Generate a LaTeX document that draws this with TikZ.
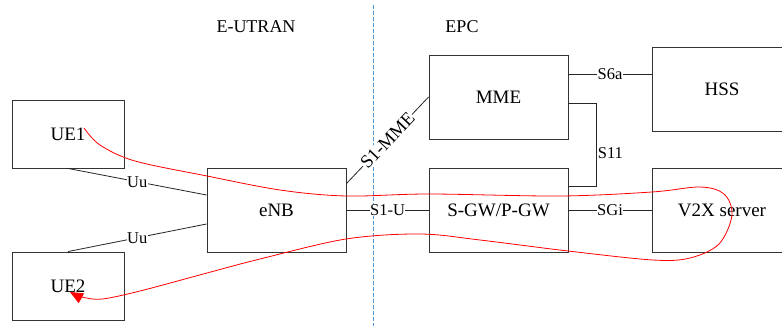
\documentclass[tikz,border=0pt]{standalone}
\usepackage{fontspec}
\setmainfont{Liberation Serif}
\usetikzlibrary{calc,arrows.meta}
\definecolor{divblue}{RGB}{80,150,215}
\begin{document}
\begin{tikzpicture}[x=1pt,y=-1pt,
  box/.style={draw=black!80,line width=0.9pt,minimum width=139pt,minimum height=84pt,inner sep=0pt,font=\fontsize{19}{22}\selectfont},
  uebox/.style={box,minimum width=112pt,minimum height=68pt},
  link/.style={draw=black!85,line width=0.8pt},
  lab/.style={fill=white,inner sep=0.5pt,font=\fontsize{16.5}{19}\selectfont},
  title/.style={font=\fontsize{18}{21}\selectfont}]
\useasboundingbox (0,0) rectangle (782,326);
\fill[white] (0,0) rectangle (782,326);
% divider
\draw[divblue,line width=1pt,dash pattern=on 4pt off 2pt] (373,5) -- (373,326);
\node[title] (eutran) at (256,27) {E-UTRAN};
\node[title] (epc) at (462,27) {EPC};
% boxes
\node[uebox] (UE1) at (68,134) {UE1};
\node[uebox] (UE2) at (68,286) {UE2};
\node[box] (eNB) at (276.5,210) {eNB};
\node[box] (MME) at (498.5,97) {MME};
\node[box] (SGW) at (498.5,210) {S-GW/P-GW};
\node[box,minimum width=140pt] (HSS) at (722,89) {HSS};
\node[box,minimum width=140pt] (V2X) at (722,210) {V2X server};
% links
\draw[link] (UE1.south) -- node[lab,pos=0.5] {Uu} ($(eNB.west)+(0,-15)$);
\draw[link] (UE2.north) -- node[lab,pos=0.5] {Uu} ($(eNB.west)+(0,14)$);
\draw[link] ($(eNB.north east)+(0,16)$) -- node[lab,sloped,pos=0.5,font=\fontsize{18.5}{21}\selectfont] {S1-MME} (MME.west);
\draw[link] (eNB.east) -- node[lab] {S1-U} (SGW.west);
\coordinate (s6a) at ($(MME.north east)+(0,20)$);
\draw[link] (s6a) -- node[lab] {S6a} (s6a -| HSS.west);
\coordinate (s11a) at ($(MME.south east)+(0,-36)$);
\coordinate (s11b) at ($(SGW.north east)+(0,19)$);
\draw[link] (s11a) -- ++(28,0) coordinate (s11c) -- node[right,inner sep=1pt,font=\fontsize{16.5}{19}\selectfont,pos=0.6] {S11} (s11c |- s11b) -- (s11b);
\draw[link] (SGW.east) -- node[lab] {SGi} (V2X.west);
% red flow
\draw[red,line width=0.8pt,-{Triangle[length=13pt,width=11pt]}]
  plot[smooth,tension=0.55] coordinates {(84,128) (100,145) (135,161) (207,176) (280,190) (346,196) (429,194) (560,196) (652,192) (700,187) (724,194) (732,215) (719,244) (690,258) (653,260) (568,251) (480,240) (420,234) (346,239) (260,259) (207,273) (140,291) (102,299) (82,297) (70,292)};
\end{tikzpicture}
\end{document}
